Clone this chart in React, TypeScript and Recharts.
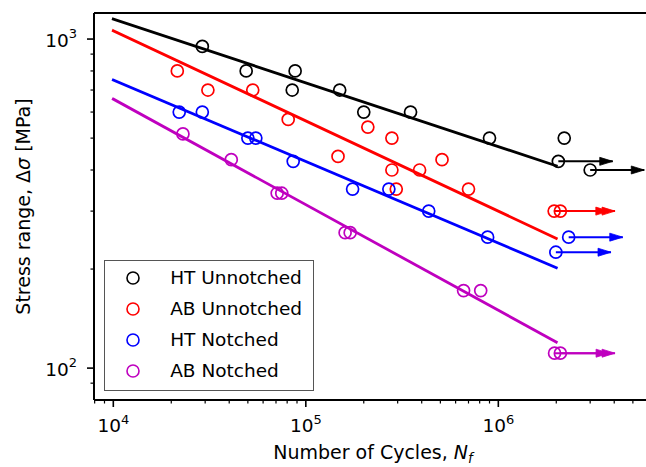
import React from 'react';
import { ScatterChart, Scatter, XAxis, YAxis, ReferenceLine, Legend } from 'recharts';

const FONT = '"DejaVu Sans", Verdana, sans-serif';

// Axis ranges and tick values
const X_DOMAIN: [number, number] = [7938, 6.285e6];
const Y_DOMAIN: [number, number] = [80, 1200];
const X_MAJOR = [1e4, 1e5, 1e6];
const X_TICKS = [8e3, 9e3, 1e4, 2e4, 3e4, 4e4, 5e4, 6e4, 7e4, 8e4, 9e4, 1e5, 2e5, 3e5, 4e5, 5e5, 6e5, 7e5, 8e5, 9e5, 1e6, 2e6, 3e6, 4e6, 5e6, 6e6];
const Y_MAJOR = [100, 1000];
const Y_TICKS = [90, 100, 200, 300, 400, 500, 600, 700, 800, 900, 1000];

// HT Unnotched
const htUnN = [2.9e4, 4.9e4, 8.8e4, 8.5e4, 1.5e5, 2.0e5, 3.5e5, 9.0e5, 2.2e6];
const htUnS = [950, 800, 800, 700, 700, 600, 600, 500, 500];
const htUnRunN = [2.05e6, 3.0e6];
const htUnRunS = [425, 400];
const htUnTipN = [3.93e6, 5.73e6];
const htUnFitN = [1e4, 2e6];
const htUnFitS = [1150, 412];

// AB Unnotched
const abUnN = [2.15e4, 3.1e4, 5.3e4, 8.1e4, 1.47e5, 2.1e5, 2.8e5, 2.8e5, 2.95e5, 3.9e5, 5.1e5, 7.0e5];
const abUnS = [800, 700, 700, 570, 440, 540, 500, 400, 350, 400, 430, 350];
const abUnRunN = [1.95e6, 2.1e6];
const abUnRunS = [300, 300];
const abUnTipN = [3.75e6, 4.04e6];
const abUnFitN = [1e4, 2e6];
const abUnFitS = [1060, 248];

// HT Notched
const htNoN = [2.2e4, 2.9e4, 5.0e4, 5.5e4, 8.6e4, 1.75e5, 2.7e5, 4.35e5, 8.8e5];
const htNoS = [600, 600, 500, 500, 425, 350, 350, 300, 250];
const htNoRunN = [2.32e6, 1.99e6];
const htNoRunS = [250, 225];
const htNoTipN = [4.43e6, 3.85e6];
const htNoFitN = [1e4, 2e6];
const htNoFitS = [751, 202];

// AB Notched
const abNoN = [2.3e4, 4.1e4, 7.1e4, 7.5e4, 1.6e5, 1.7e5, 6.6e5, 8.1e5];
const abNoS = [515, 430, 340, 340, 258, 258, 172, 172];
const abNoRunN = [1.96e6, 2.1e6];
const abNoRunS = [111, 111];
const abNoTipN = [3.76e6, 4.04e6];
const abNoFitN = [1e4, 2e6];
const abNoFitS = [657, 120];

const zip = (xs: number[], ys: number[]) => xs.map((x, i) => ({ x, y: ys[i] }));

const SERIES = [
  { name: 'HT Unnotched', color: '#000000', n: htUnN, s: htUnS, rn: htUnRunN, rs: htUnRunS, tn: htUnTipN, fn: htUnFitN, fs: htUnFitS },
  { name: 'AB Unnotched', color: '#ff0000', n: abUnN, s: abUnS, rn: abUnRunN, rs: abUnRunS, tn: abUnTipN, fn: abUnFitN, fs: abUnFitS },
  { name: 'HT Notched', color: '#0000ff', n: htNoN, s: htNoS, rn: htNoRunN, rs: htNoRunS, tn: htNoTipN, fn: htNoFitN, fs: htNoFitS },
  { name: 'AB Notched', color: '#bf00bf', n: abNoN, s: abNoS, rn: abNoRunN, rs: abNoRunS, tn: abNoTipN, fn: abNoFitN, fs: abNoFitS },
];

const sup = (v: number) => String(Math.round(Math.log10(v)));

const XTick = (props: any) => {
  const { x, y, payload } = props;
  const v = payload.value;
  const major = X_MAJOR.some((m) => Math.abs(m - v) < 1e-6 * m);
  return (
    <g>
      <line x1={x} x2={x} y1={y} y2={y + (major ? 7 : 3.5)} stroke="#000" strokeWidth={major ? 1.6 : 1.2} />
      {major && (
        <text x={x} y={y + 32} textAnchor="middle" fontFamily={FONT} fontSize={18.5} fill="#000">
          <tspan>10</tspan>
          <tspan dy={-8.5} fontSize={13}>{sup(v)}</tspan>
        </text>
      )}
    </g>
  );
};

const YTick = (props: any) => {
  const { x, y, payload } = props;
  const v = payload.value;
  const major = Y_MAJOR.some((m) => Math.abs(m - v) < 1e-6 * m);
  return (
    <g>
      <line x1={x} x2={x - (major ? 7 : 3.5)} y1={y} y2={y} stroke="#000" strokeWidth={major ? 1.6 : 1.2} />
      {major && (
        <text x={x - 17} y={y + 7.5} textAnchor="end" fontFamily={FONT} fontSize={18.5} fill="#000">
          <tspan>10</tspan>
          <tspan dy={-8.5} fontSize={13}>{sup(v)}</tspan>
        </text>
      )}
    </g>
  );
};

const XLabel = (props: any) => {
  const vb = props.viewBox || {};
  return (
    <text x={vb.x + vb.width / 2} y={vb.y + 59} textAnchor="middle" fontFamily={FONT} fontSize={19} fill="#000">
      <tspan>Number of Cycles, </tspan>
      <tspan fontStyle="italic">N</tspan>
      <tspan fontStyle="italic" fontSize={13.5} dy={4}>f</tspan>
    </text>
  );
};

const YLabel = (props: any) => {
  const vb = props.viewBox || {};
  const cx = 30;
  const cy = vb.y + vb.height / 2;
  return (
    <text x={cx} y={cy} transform={`rotate(-90 ${cx} ${cy})`} textAnchor="middle" fontFamily={FONT} fontSize={19} fill="#000">
      <tspan>Stress range, Δ</tspan>
      <tspan fontStyle="italic">σ</tspan>
      <tspan> [MPa]</tspan>
    </text>
  );
};

const makeCircle = (color: string) => (props: any) => (
  <circle cx={props.cx} cy={props.cy} r={6} fill="none" stroke={color} strokeWidth={1.7} />
);

const noShape = () => <g />;

const makeArrowHead = (color: string) => (props: any) => {
  const { cx, cy, payload } = props;
  if (!payload || !payload.tip) return <g />;
  return <polygon points={`${cx},${cy} ${cx - 13},${cy - 4} ${cx - 13},${cy + 4}`} fill={color} stroke={color} strokeWidth={0.8} />;
};

const LegendBox = () => (
  <div
    style={{
      position: 'relative',
      width: 210,
      height: 131,
      boxSizing: 'border-box',
      border: '1.8px solid #555',
      background: '#fff',
      fontFamily: FONT,
      fontSize: 18.5,
      color: '#000',
    }}
  >
    {SERIES.map((s, i) => (
      <div
        key={s.name}
        style={{ position: 'absolute', left: 0, top: 19 - 11 + i * 31 - 1.8, height: 22, lineHeight: '22px', whiteSpace: 'nowrap' }}
      >
        <svg width={16} height={16} style={{ position: 'absolute', left: 30 - 8 - 1.8, top: 3 }}>
          <circle cx={8} cy={8} r={6} fill="none" stroke={s.color} strokeWidth={1.6} />
        </svg>
        <span style={{ position: 'absolute', left: 67 - 1.8, top: 0 }}>{s.name}</span>
      </div>
    ))}
  </div>
);

export default function App() {
  return (
    <div style={{ position: 'absolute', left: 0, top: 0, width: 646, height: 467, overflow: 'hidden', background: '#fff' }}>
      <ScatterChart width={652} height={467} margin={{ top: 13, right: 0, bottom: 0, left: 0 }}>
        <XAxis
          type="number"
          dataKey="x"
          scale="log"
          domain={X_DOMAIN}
          allowDataOverflow
          ticks={X_TICKS}
          interval={0}
          tick={<XTick />}
          tickLine={false}
          tickSize={0}
          tickMargin={0}
          axisLine={{ stroke: '#000', strokeWidth: 2 }}
          height={67}
          label={<XLabel />}
        />
        <YAxis
          type="number"
          dataKey="y"
          scale="log"
          domain={Y_DOMAIN}
          allowDataOverflow
          ticks={Y_TICKS}
          interval={0}
          tick={<YTick />}
          tickLine={false}
          tickSize={0}
          tickMargin={0}
          axisLine={{ stroke: '#000', strokeWidth: 2 }}
          width={94}
          label={<YLabel />}
        />
        <ReferenceLine y={Y_DOMAIN[1]} stroke="#000" strokeWidth={2} />
        {SERIES.map((s) => (
          <Scatter key={s.name + '-pts'} data={zip(s.n, s.s)} shape={makeCircle(s.color)} isAnimationActive={false} />
        ))}
        {SERIES.map((s) => (
          <Scatter key={s.name + '-run'} data={zip(s.rn, s.rs)} shape={makeCircle(s.color)} isAnimationActive={false} />
        ))}
        {SERIES.map((s) => (
          <Scatter
            key={s.name + '-fit'}
            data={zip(s.fn, s.fs)}
            line={{ stroke: s.color, strokeWidth: 2.8, strokeLinecap: 'square' }}
            shape={noShape}
            isAnimationActive={false}
          />
        ))}
        {SERIES.flatMap((s) =>
          s.rn.map((rx, i) => (
            <Scatter
              key={s.name + '-arrow-' + i}
              data={[
                { x: rx, y: s.rs[i], tip: false },
                { x: s.tn[i], y: s.rs[i], tip: true },
              ]}
              line={{ stroke: s.color, strokeWidth: 2 }}
              shape={makeArrowHead(s.color)}
              isAnimationActive={false}
            />
          ))
        )}
        <Legend
          layout="horizontal"
          verticalAlign="middle"
          align="center"
          wrapperStyle={{ position: 'absolute', left: 104, top: 260, width: 210, height: 131 }}
          content={() => <LegendBox />}
        />
      </ScatterChart>
    </div>
  );
}
